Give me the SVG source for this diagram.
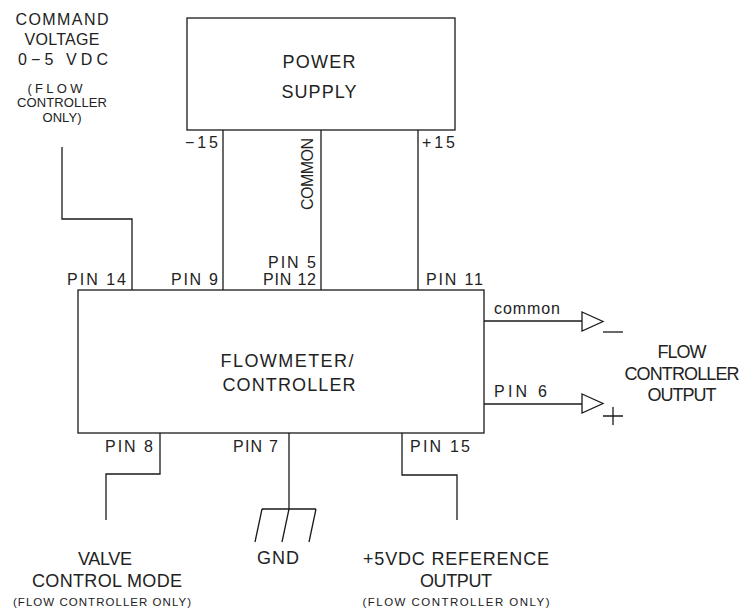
<svg xmlns="http://www.w3.org/2000/svg" width="754" height="613" viewBox="0 0 754 613">
<style>
text{font-family:"Liberation Sans",Arial,sans-serif;fill:#222;}
.lg{font-size:18px;}
.cv{font-size:16px;}
.md{font-size:16px;}
.sm{font-size:13px;}
.xs{font-size:11.5px;}
.m{text-anchor:middle;}
.e{text-anchor:end;}
.ln{fill:none;stroke:#1a1a1a;stroke-width:1.3;}
.box{fill:#fff;stroke:#1a1a1a;stroke-width:1.3;}
</style>
<rect width="754" height="613" fill="#fff"/>
<g id="connectors">
  <path class="ln" d="M62,147 V219 H132 V290"/>
  <path class="ln" d="M223,130 V290"/>
  <path class="ln" d="M321,130 V290"/>
  <path class="ln" d="M418,130 V290"/>
  <path class="ln" d="M484,321 H582"/>
  <path class="ln" d="M484,404 H582"/>
  <path class="ln" d="M160,433 V474 H106 V520"/>
  <path class="ln" d="M289,433 V509"/>
  <path class="ln" d="M402,433 V475 H457 V520"/>
</g>
<g id="power-supply">
  <rect class="box" x="187" y="18" width="268" height="112"/>
  <text class="lg m" x="319" y="68" textLength="73">POWER</text>
  <text class="lg m" x="319" y="98" textLength="75">SUPPLY</text>
  <text class="md e" x="218" y="148" textLength="33">−15</text>
  <text class="md" x="422" y="148" textLength="33">+15</text>
  <text class="md m" transform="translate(313,174) rotate(-90)" textLength="72">COMMON</text>
</g>
<g id="flowmeter-controller">
  <rect class="box" x="78" y="290" width="406" height="143"/>
  <text class="lg m" x="287" y="367" textLength="133">FLOWMETER/</text>
  <text class="lg m" x="289" y="391" textLength="133">CONTROLLER</text>
  <text class="md" x="67" y="285" textLength="59">PIN 14</text>
  <text class="md e" x="218" y="285" textLength="47">PIN 9</text>
  <text class="md e" x="316" y="268" textLength="48">PIN 5</text>
  <text class="md e" x="316" y="285" textLength="53">PIN 12</text>
  <text class="md" x="426" y="285" textLength="57">PIN 11</text>
  <text class="md" x="105" y="452" textLength="48">PIN 8</text>
  <text class="md" x="233" y="452" textLength="45">PIN 7</text>
  <text class="md" x="410" y="452" textLength="60">PIN 15</text>
  <text class="md" x="494" y="314" textLength="66">common</text>
  <text class="md" x="494" y="397" textLength="53">PIN 6</text>
</g>
<g id="command-voltage">
  <text class="cv m" x="62" y="25" textLength="93">COMMAND</text>
  <text class="cv m" x="62" y="45" textLength="75">VOLTAGE</text>
  <text class="cv m" x="63" y="65" textLength="90">0−5 VDC</text>
  <text class="sm m" x="55" y="93" textLength="55">(FLOW</text>
  <text class="sm m" x="62" y="107" textLength="90">CONTROLLER</text>
  <text class="sm m" x="62" y="122" textLength="39">ONLY)</text>
</g>
<g id="flow-controller-output">
  <path class="ln" d="M582,312 L603,321.5 L582,331 Z"/>
  <path class="ln" d="M603,332 H623"/>
  <path class="ln" d="M582,394 L603,403.5 L582,413 Z"/>
  <path class="ln" d="M603,416 H623 M613,407 V425"/>
  <text class="lg m" x="682" y="358" textLength="49">FLOW</text>
  <text class="lg m" x="682" y="380" textLength="115">CONTROLLER</text>
  <text class="lg m" x="682" y="401" textLength="69">OUTPUT</text>
</g>
<g id="ground">
  <path class="ln" d="M262,509 H316 M262,509 L255,542 M289,509 L282,542 M316,509 L309,542"/>
  <text class="lg m" x="278" y="564" textLength="42">GND</text>
</g>
<g id="valve-control-mode">
  <text class="lg m" x="105" y="565" textLength="54">VALVE</text>
  <text class="lg m" x="107" y="587" textLength="150">CONTROL MODE</text>
  <text class="xs m" x="102" y="606" textLength="178">(FLOW CONTROLLER ONLY)</text>
</g>
<g id="reference-output">
  <text class="lg m" x="456" y="565" textLength="186">+5VDC REFERENCE</text>
  <text class="lg m" x="456" y="587" textLength="72">OUTPUT</text>
  <text class="xs m" x="456" y="606" textLength="187">(FLOW CONTROLLER ONLY)</text>
</g>
</svg>
